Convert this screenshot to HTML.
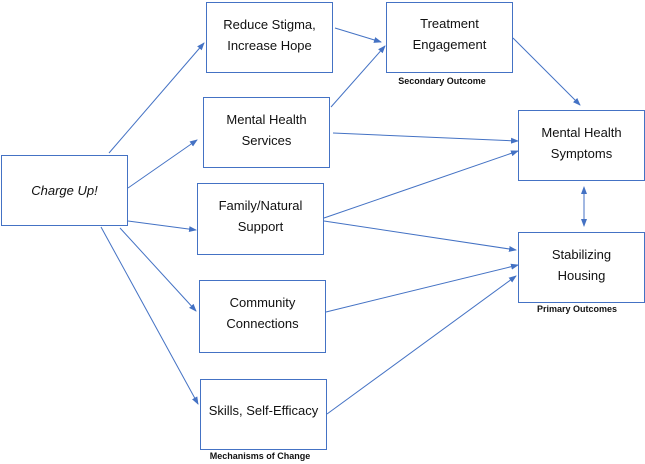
<!DOCTYPE html><html><head><style>
body{margin:0;background:#fff}
.b{position:absolute;border:1.5px solid #4472c4;box-sizing:border-box;background:#fff;font:13px "Liberation Sans",sans-serif;color:#111;text-align:center;line-height:21px}
.l{position:absolute;font:bold 9px "Liberation Sans",sans-serif;color:#111;white-space:nowrap;transform:translateX(-50%)}
</style></head><body>
<div style="position:relative;width:645px;height:464px;overflow:hidden">
<svg width="645" height="464" style="position:absolute;left:0;top:0">
<defs><marker id="a" markerWidth="8" markerHeight="8" refX="7" refY="4" orient="auto-start-reverse" markerUnits="userSpaceOnUse"><path d="M0,1 L8,4 L0,7z" fill="#4472c4"/></marker></defs>
<g stroke="#4472c4" stroke-width="1" marker-end="url(#a)">
<line x1="109" y1="153" x2="204" y2="43"/>
<line x1="128" y1="188" x2="197" y2="140"/>
<line x1="128" y1="221" x2="196" y2="230"/>
<line x1="120" y1="228" x2="196" y2="311"/>
<line x1="101" y1="227" x2="198" y2="404"/>
<line x1="335" y1="28" x2="381" y2="42"/>
<line x1="331" y1="107" x2="385" y2="46"/>
<line x1="513" y1="38" x2="580" y2="105"/>
<line x1="333" y1="133" x2="518" y2="141"/>
<line x1="324" y1="218" x2="518" y2="151"/>
<line x1="324" y1="221" x2="516" y2="250"/>
<line x1="326" y1="312" x2="518" y2="265"/>
<line x1="327" y1="414" x2="516" y2="276"/>
<line x1="584" y1="187" x2="584" y2="226" marker-start="url(#a)"/>
</g></svg>
<div class="b" style="left:1px;top:155px;width:127px;height:71px;padding-top:24px;font-style:italic">Charge Up!</div>
<div class="b" style="left:206px;top:2px;width:127px;height:71px;padding-top:11px">Reduce Stigma,<br>Increase Hope</div>
<div class="b" style="left:386px;top:2px;width:127px;height:71px;padding-top:10px">Treatment<br>Engagement</div>
<div class="b" style="left:203px;top:97px;width:127px;height:71px;padding-top:11px">Mental Health<br>Services</div>
<div class="b" style="left:197px;top:183px;width:127px;height:72px;padding-top:11px">Family/Natural<br>Support</div>
<div class="b" style="left:199px;top:280px;width:127px;height:73px;padding-top:11px">Community<br>Connections</div>
<div class="b" style="left:200px;top:379px;width:127px;height:71px;padding-top:20px">Skills, Self-Efficacy</div>
<div class="b" style="left:518px;top:110px;width:127px;height:71px;padding-top:11px">Mental Health<br>Symptoms</div>
<div class="b" style="left:518px;top:232px;width:127px;height:71px;padding-top:11px">Stabilizing<br>Housing</div>
<div class="l" style="left:442px;top:76px">Secondary Outcome</div>
<div class="l" style="left:577px;top:304px">Primary Outcomes</div>
<div class="l" style="left:260px;top:451px">Mechanisms of Change</div>
</div></body></html>
